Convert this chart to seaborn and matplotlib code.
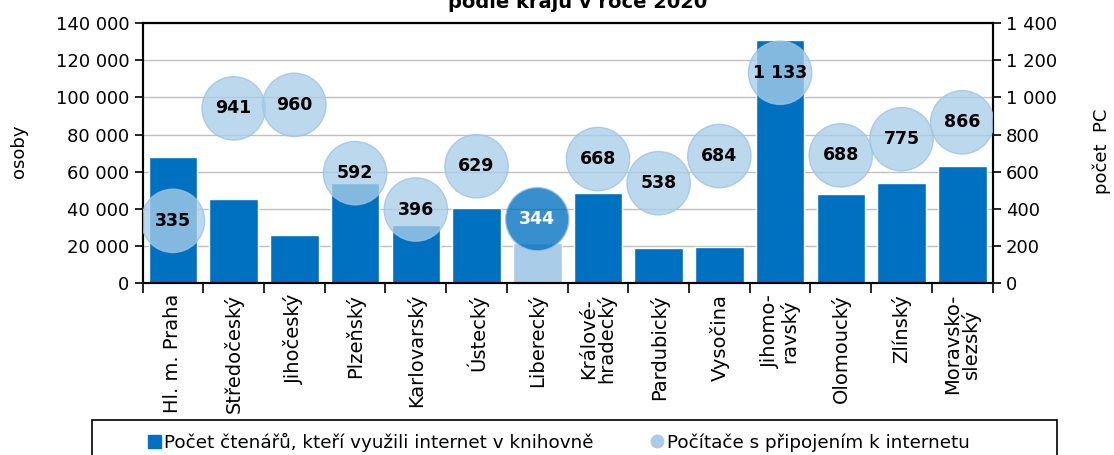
import numpy as np
import matplotlib
matplotlib.use("Agg")
import matplotlib.pyplot as plt
import seaborn as sns
from matplotlib.ticker import FuncFormatter, FixedLocator
from matplotlib.patches import Patch, Rectangle
from matplotlib.lines import Line2D

# data
regions = ["Hl. m. Praha", "Středočeský", "Jihočeský", "Plzeňský", "Karlovarský",
           "Ústecký", "Liberecký", "Králové-\nhradecký", "Pardubický", "Vysočina",
           "Jihomo-\nravský", "Olomoucký", "Zlínský", "Moravsko-\nslezský"]
readers = [67800, 45200, 25800, 53800, 31200, 40400, 21500,
           48400, 18800, 19400, 131200, 47900, 53800, 62900]
computers = [335, 941, 960, 592, 396, 629, 344, 668, 538, 684, 1133, 688, 775, 866]
highlight = "Liberecký"

dark = "#0070c0"
light = "#a9cde9"

sns.set_style("white")
plt.rcParams['font.family'] = ['DejaVu Sans']
plt.rcParams.update({"text.color": "black", "axes.labelcolor": "black",
                     "xtick.color": "black", "ytick.color": "black"})

fig, ax = plt.subplots(figsize=(11.14, 4.55), dpi=100)
fig.subplots_adjust(left=0.128, right=0.891, top=0.949, bottom=0.378)

pos = np.arange(len(regions))
bar_colors = [light if r == highlight else dark for r in regions]
sns.barplot(x=pos, y=readers, hue=pos, palette=bar_colors, legend=False,
            width=0.8, saturation=1, ax=ax, native_scale=True, zorder=2)

ax.set_xlim(-0.5, len(regions) - 0.5)
ax.set_ylim(0, 140000)
ax.set_yticks(np.arange(0, 140001, 20000))
fmt = FuncFormatter(lambda v, p: f"{int(v):,}".replace(",", " "))
ax.yaxis.set_major_formatter(fmt)
ax.grid(axis="y", color="#c0c0c0", linewidth=1)
ax.set_axisbelow(True)

# ticks at category boundaries, labels at centres
ax.xaxis.set_major_locator(FixedLocator(np.arange(-0.5, len(regions), 1)))
ax.xaxis.set_major_formatter(FuncFormatter(lambda v, p: ""))
ax.xaxis.set_minor_locator(FixedLocator(pos))
ax.set_xticklabels(regions, minor=True, rotation=90, fontsize=14,
                   va="top", ha="center", linespacing=0.9)
ax.tick_params(axis="x", which="major", length=7, width=1.2, color="black", direction="out", bottom=True)
ax.tick_params(axis="x", which="minor", length=0, pad=8)
ax.tick_params(axis="y", length=6, width=1.2, color="black", direction="out", left=True, labelsize=13)
ax.set_xlabel("")
ax.set_ylabel("osoby", fontsize=13)
ax.yaxis.set_label_coords(-0.135, 0.508)

for s in ax.spines.values():
    s.set_color("black")
    s.set_linewidth(1.5)

# second axis with circles
ax2 = ax.twinx()
circle_colors = [dark if r == highlight else light for r in regions]
sns.scatterplot(x=pos, y=computers, hue=pos, palette=circle_colors, legend=False,
                s=2080, alpha=0.78, edgecolor="#9cc3e5", linewidth=1, ax=ax2, zorder=5)
ax2.set_ylim(0, 1400)
ax2.set_yticks(np.arange(0, 1401, 200))
ax2.yaxis.set_major_formatter(fmt)
ax2.tick_params(axis="y", length=6, width=1.2, color="black", direction="out", right=True, labelsize=13)
ax2.set_ylabel("počet  PC", fontsize=13)
ax2.yaxis.set_label_coords(1.118, 0.508)
for s in ax2.spines.values():
    s.set_color("black")
    s.set_linewidth(1.5)

for x, v, r in zip(pos, computers, regions):
    ax2.text(x, v, f"{v:,}".replace(",", " "), ha="center", va="center",
             fontsize=12.5, fontweight="bold",
             color="white" if r == highlight else "black", zorder=6)

# title (top line is cut off in the original)
fig.text(578 / 1114, 1 - 8 / 455, "podle krajů v roce 2020", ha="center",
         va="baseline", fontsize=14, fontweight="bold")

# legend with a box running off the bottom edge
fig.patches.append(Rectangle((92 / 1114, -0.05), 965 / 1114, 0.05 + 1 - 420 / 455,
                             transform=fig.transFigure, facecolor="none",
                             edgecolor="black", linewidth=1.2))
handles = [Patch(facecolor=dark, edgecolor=dark),
           Line2D([], [], marker="o", linestyle="", markersize=9,
                  markerfacecolor=light, markeredgecolor=light)]
labels = ["Počet čtenářů, kteří využili internet v knihovně",
          "Počítače s připojením k internetu"]
fig.legend(handles, labels, loc="center left", ncol=2,
           bbox_to_anchor=(148 / 1114, 1 - 442 / 455),
           fontsize=13.2, frameon=False, borderpad=0, borderaxespad=0,
           handlelength=0.7, handleheight=0.7, handletextpad=0.2, columnspacing=3.1)

fig.savefig("out.png", dpi=100)
